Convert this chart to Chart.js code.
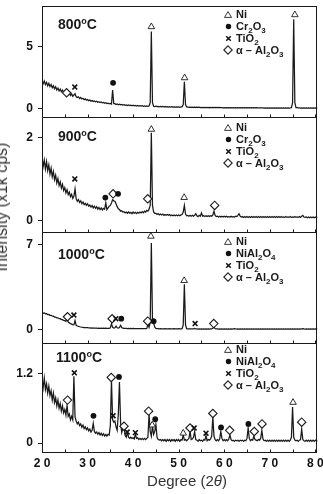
<!DOCTYPE html>
<html><head><meta charset="utf-8">
<script src="https://cdn.jsdelivr.net/npm/chart.js@4.4.1/dist/chart.umd.min.js"></script>
<style>
html,body{margin:0;padding:0;background:#fff;}
#wrap{position:relative;width:323px;height:494px;overflow:hidden;font-family:"Liberation Sans",Arial,sans-serif;color:#1a1a1a;}
#c{position:absolute;left:0;top:0;}
.ttl{position:absolute;white-space:nowrap;font-weight:bold;font-size:14px;line-height:16px;height:16px;transform:translateY(-50%);}
.ttl sup{font-size:9px;vertical-align:5px;line-height:0;}
.row{position:absolute;white-space:nowrap;font-weight:bold;font-size:11px;line-height:12px;height:12px;width:90px;transform:translateY(-50%);}
.sym{position:absolute;left:-6px;width:12px;top:0;height:12px;display:flex;align-items:center;justify-content:center;}
.txt{position:absolute;left:8px;top:0;}
sub{font-size:8px;vertical-align:-3px;line-height:0;}
#ytitle{position:absolute;left:2px;top:207px;transform:translate(-50%,-50%) rotate(-90deg);white-space:nowrap;font-size:16px;color:#333;}
#xtitle{position:absolute;left:187px;top:480px;transform:translate(-50%,-50%);white-space:nowrap;font-size:15px;color:#333;}
</style>
</head><body>
<div id="wrap">
<canvas id="c" width="323" height="494"></canvas>
<div id="ytitle">Intensity (x1k cps)</div>
<div id="xtitle">Degree (2<i>θ</i>)</div>
</div>
<script>
// ---- x grid (2θ, degrees) ----
const degrees = [
20,20.25,20.5,20.75, 21,21.25,21.5,21.75, 22,22.25,22.5,22.75, 23,23.25,23.5,23.75,
24,24.25,24.5,24.75, 25,25.25,25.5,25.75, 26,26.25,26.5,26.75, 27,27.25,27.5,27.75,
28,28.25,28.5,28.75, 29,29.25,29.5,29.75, 30,30.25,30.5,30.75, 31,31.25,31.5,31.75,
32,32.25,32.5,32.75, 33,33.25,33.5,33.75, 34,34.25,34.5,34.75, 35,35.25,35.5,35.75,
36,36.25,36.5,36.75, 37,37.25,37.5,37.75, 38,38.25,38.5,38.75, 39,39.25,39.5,39.75,
40,40.25,40.5,40.75, 41,41.25,41.5,41.75, 42,42.25,42.5,42.75, 43,43.25,43.5,43.75,
44,44.25,44.5,44.75, 45,45.25,45.5,45.75, 46,46.25,46.5,46.75, 47,47.25,47.5,47.75,
48,48.25,48.5,48.75, 49,49.25,49.5,49.75, 50,50.25,50.5,50.75, 51,51.25,51.5,51.75,
52,52.25,52.5,52.75, 53,53.25,53.5,53.75, 54,54.25,54.5,54.75, 55,55.25,55.5,55.75,
56,56.25,56.5,56.75, 57,57.25,57.5,57.75, 58,58.25,58.5,58.75, 59,59.25,59.5,59.75,
60,60.25,60.5,60.75, 61,61.25,61.5,61.75, 62,62.25,62.5,62.75, 63,63.25,63.5,63.75,
64,64.25,64.5,64.75, 65,65.25,65.5,65.75, 66,66.25,66.5,66.75, 67,67.25,67.5,67.75,
68,68.25,68.5,68.75, 69,69.25,69.5,69.75, 70,70.25,70.5,70.75, 71,71.25,71.5,71.75,
72,72.25,72.5,72.75, 73,73.25,73.5,73.75, 74,74.25,74.5,74.75, 75,75.25,75.5,75.75,
76,76.25,76.5,76.75, 77,77.25,77.5,77.75, 78,78.25,78.5,78.75, 79,79.25,79.5,79.75,
80,80.25,80.5,80.75
];

// ---- intensities (x1k cps), one value per degree step ----
const int800 = [
2.30,2.02,2.24,1.96, 2.14,1.86,2.05,1.80, 1.96,1.70,1.86,1.62, 1.78,1.52,1.68,1.46,
1.60,1.38,1.52,1.32, 1.44,1.22,1.36,1.16, 1.28,1.08,1.22,1.02, 1.12,1.22,0.98,0.92,
0.98,0.84,0.92,0.80, 0.86,0.75,0.81,0.71, 0.76,0.67,0.72,0.63, 0.68,0.60,0.64,0.57,
0.62,0.54,0.58,0.51, 0.56,0.49,0.53,0.46, 0.50,0.44,0.47,0.42, 0.45,0.40,1.52,0.42,
0.42,0.36,0.40,0.34, 0.38,0.33,0.36,0.31, 0.35,0.30,0.33,0.28, 0.32,0.28,0.30,0.26,
0.30,0.26,0.28,0.24, 0.28,0.24,0.27,0.23, 0.26,0.22,0.25,0.22, 0.24,0.21,0.24,0.50,
6.22,0.50,0.22,0.20, 0.22,0.19,0.21,0.18, 0.20,0.18,0.20,0.17, 0.19,0.17,0.19,0.16,
0.18,0.16,0.18,0.15, 0.17,0.15,0.17,0.15, 0.17,0.14,0.16,0.16, 0.35,2.18,0.35,0.16,
0.15,0.13,0.15,0.13, 0.15,0.12,0.14,0.12, 0.14,0.12,0.14,0.11, 0.13,0.11,0.13,0.11,
0.13,0.11,0.13,0.10, 0.12,0.10,0.12,0.10, 0.12,0.10,0.12,0.10, 0.12,0.10,0.11,0.09,
0.11,0.09,0.11,0.09, 0.11,0.09,0.11,0.09, 0.11,0.09,0.10,0.09, 0.10,0.08,0.10,0.08,
0.10,0.08,0.10,0.08, 0.10,0.08,0.10,0.08, 0.10,0.08,0.10,0.08, 0.10,0.08,0.09,0.08,
0.09,0.08,0.09,0.07, 0.09,0.07,0.09,0.07, 0.09,0.07,0.09,0.07, 0.09,0.07,0.09,0.07,
0.09,0.07,0.08,0.07, 0.08,0.07,0.08,0.07, 0.08,0.07,0.08,0.10, 0.50,7.20,0.50,0.10,
0.10,0.08,0.08,0.07, 0.08,0.07,0.08,0.07, 0.08,0.07,0.08,0.07, 0.08,0.07,0.08,0.07,
0.08,0.07,0.08,0.07
];
const int900 = [
1.52,1.30,1.46,1.24, 1.42,1.20,1.34,1.12, 1.26,1.05,1.18,0.98, 1.09,0.90,1.01,0.84,
0.93,0.78,0.87,0.72, 0.79,0.66,0.74,0.62, 0.68,0.57,0.63,0.53, 0.58,0.76,0.52,0.46,
0.50,0.43,0.47,0.40, 0.44,0.38,0.41,0.36, 0.40,0.34,0.37,0.32, 0.36,0.30,0.34,0.29,
0.33,0.27,0.31,0.26, 0.30,0.25,0.29,0.27, 0.42,0.26,0.30,0.34, 0.36,0.42,0.50,0.47,
0.46,0.40,0.33,0.28, 0.26,0.22,0.23,0.20, 0.21,0.18,0.20,0.17, 0.20,0.17,0.19,0.16,
0.20,0.17,0.19,0.16, 0.19,0.17,0.20,0.18, 0.21,0.18,0.22,0.20, 0.24,0.22,0.27,0.36,
2.12,0.36,0.20,0.17, 0.17,0.14,0.16,0.13, 0.15,0.13,0.15,0.12, 0.14,0.12,0.14,0.12,
0.14,0.11,0.13,0.11, 0.13,0.11,0.13,0.11, 0.13,0.11,0.13,0.14, 0.20,0.36,0.15,0.11,
0.12,0.10,0.12,0.10, 0.12,0.10,0.12,0.16, 0.11,0.09,0.12,0.10, 0.18,0.10,0.11,0.09,
0.11,0.09,0.11,0.09, 0.11,0.10,0.13,0.22, 0.12,0.09,0.10,0.08, 0.10,0.08,0.10,0.08,
0.10,0.08,0.10,0.08, 0.09,0.08,0.10,0.08, 0.09,0.08,0.10,0.09, 0.12,0.16,0.10,0.08,
0.09,0.07,0.09,0.07, 0.09,0.07,0.09,0.07, 0.09,0.07,0.09,0.07, 0.09,0.07,0.09,0.07,
0.09,0.07,0.09,0.07, 0.09,0.07,0.09,0.07, 0.09,0.07,0.09,0.07, 0.09,0.07,0.09,0.07,
0.09,0.07,0.09,0.07, 0.08,0.07,0.09,0.07, 0.08,0.07,0.09,0.07, 0.08,0.07,0.09,0.07,
0.08,0.07,0.09,0.07, 0.10,0.12,0.08,0.07, 0.08,0.06,0.08,0.06, 0.08,0.06,0.08,0.06,
0.08,0.06,0.08,0.06
];
const int1000 = [
1.42,1.35,1.37,1.30, 1.31,1.24,1.25,1.18, 1.18,1.11,1.11,1.04, 1.04,0.97,0.97,0.90,
0.90,0.83,0.82,0.76, 0.74,0.68,0.96,0.62, 0.56,0.50,0.46,0.42, 0.40,0.75,0.36,0.30,
0.28,0.24,0.22,0.20, 0.19,0.17,0.17,0.16, 0.16,0.14,0.15,0.13, 0.14,0.12,0.13,0.12,
0.13,0.11,0.12,0.11, 0.12,0.11,0.12,0.10, 0.12,0.10,0.11,0.10, 0.15,0.48,0.20,0.14,
0.16,0.30,0.16,0.14, 0.18,0.36,0.18,0.12, 0.11,0.10,0.10,0.09, 0.10,0.09,0.10,0.09,
0.10,0.08,0.09,0.08, 0.09,0.08,0.09,0.08, 0.09,0.08,0.09,0.08, 0.10,0.45,0.20,0.60,
7.10,0.80,0.55,0.20, 0.10,0.08,0.08,0.07, 0.08,0.06,0.07,0.06, 0.08,0.06,0.07,0.06,
0.08,0.06,0.07,0.06, 0.08,0.06,0.07,0.06, 0.08,0.06,0.07,0.08, 0.40,3.72,0.40,0.08,
0.07,0.06,0.07,0.06, 0.07,0.06,0.10,0.06, 0.07,0.05,0.07,0.05, 0.07,0.05,0.07,0.05,
0.07,0.05,0.07,0.05, 0.07,0.06,0.12,0.25, 0.08,0.06,0.07,0.05, 0.06,0.05,0.06,0.05,
0.06,0.05,0.06,0.05, 0.06,0.05,0.06,0.05, 0.07,0.09,0.06,0.05, 0.06,0.05,0.06,0.05,
0.06,0.05,0.06,0.05, 0.06,0.05,0.06,0.05, 0.06,0.05,0.06,0.05, 0.06,0.05,0.06,0.05,
0.06,0.05,0.06,0.05, 0.06,0.05,0.06,0.05, 0.06,0.05,0.06,0.05, 0.06,0.05,0.06,0.05,
0.06,0.05,0.06,0.05, 0.06,0.05,0.06,0.05, 0.06,0.05,0.06,0.05, 0.06,0.05,0.06,0.05,
0.06,0.05,0.06,0.05, 0.07,0.09,0.06,0.05, 0.06,0.05,0.06,0.05, 0.06,0.05,0.06,0.05,
0.06,0.05,0.06,0.05
];
const int1100 = [
1.10,0.95,1.12,0.92, 1.02,0.86,0.98,0.82, 0.90,0.74,0.86,0.70, 0.78,0.64,0.74,0.60,
0.68,0.55,0.64,0.52, 0.58,0.48,0.65,0.46, 0.50,0.40,0.46,0.40, 1.15,0.45,0.38,0.33,
0.36,0.30,0.33,0.27, 0.31,0.25,0.28,0.23, 0.26,0.21,0.24,0.19, 0.22,0.34,0.20,0.17,
0.19,0.15,0.18,0.14, 0.17,0.13,0.16,0.12, 0.15,0.12,0.15,0.14, 0.30,1.08,0.40,0.36,
0.38,0.28,0.22,0.50, 1.05,0.35,0.18,0.25, 0.28,0.13,0.10,0.18, 0.10,0.08,0.10,0.08,
0.09,0.07,0.15,0.08, 0.09,0.06,0.08,0.06, 0.08,0.06,0.08,0.06, 0.08,0.10,0.50,0.20,
0.12,0.30,0.15,0.20, 0.32,0.10,0.06,0.05, 0.06,0.04,0.06,0.04, 0.06,0.03,0.06,0.04,
0.06,0.03,0.06,0.04, 0.06,0.03,0.06,0.04, 0.06,0.03,0.06,0.05, 0.14,0.05,0.06,0.04,
0.06,0.08,0.20,0.06, 0.07,0.10,0.20,0.06, 0.05,0.03,0.06,0.04, 0.05,0.03,0.06,0.05,
0.13,0.04,0.06,0.05, 0.07,0.12,0.45,0.12, 0.06,0.04,0.06,0.04, 0.07,0.20,0.08,0.04,
0.06,0.04,0.06,0.04, 0.07,0.14,0.06,0.04, 0.05,0.03,0.05,0.04, 0.05,0.03,0.05,0.04,
0.05,0.03,0.05,0.04, 0.08,0.26,0.08,0.04, 0.06,0.05,0.12,0.06, 0.05,0.04,0.06,0.05,
0.08,0.22,0.07,0.04, 0.05,0.03,0.05,0.03, 0.05,0.03,0.05,0.03, 0.05,0.03,0.05,0.03,
0.05,0.03,0.05,0.03, 0.05,0.03,0.05,0.03, 0.05,0.03,0.05,0.10, 0.62,0.10,0.05,0.04,
0.05,0.03,0.05,0.06, 0.24,0.06,0.04,0.03, 0.05,0.03,0.05,0.03, 0.05,0.03,0.05,0.03,
0.05,0.03,0.05,0.03
];

// ---- phase markers [2θ, intensity] ----
const ni800 = [[44.0,6.6],[51.3,2.5],[75.5,7.56]];
const ox800 = [[35.6,2.1]];
const ti800 = [[27.2,1.76]];
const al800 = [[25.4,1.3]];

const ni900 = [[44.0,2.2],[51.2,0.55]];
const ox900 = [[33.9,0.55],[36.7,0.64]];
const ti900 = [[27.2,1.0]];
const al900 = [[35.6,0.64],[43.2,0.52],[57.9,0.36]];

const ni1000 = [[43.9,7.65],[51.2,4.02]];
const ox1000 = [[37.4,0.9],[44.5,0.7]];
const ti1000 = [[27.0,1.2],[36.2,0.9],[53.6,0.5]];
const al1000 = [[25.6,1.06],[35.4,0.9],[43.2,0.7],[57.7,0.5]];

const ni1100 = [[44.2,0.31],[51.0,0.17],[75.1,0.7]];
const ox1100 = [[31.3,0.47],[36.9,1.14],[44.85,0.41],[59.3,0.27],[65.3,0.33]];
const ti1100 = [[27.1,1.21],[35.6,0.47],[38.7,0.19],[40.5,0.18],[53.4,0.26],[56.0,0.17]];
const al1100 = [[25.6,0.74],[35.2,1.13],[38.0,0.29],[43.4,0.55],[52.5,0.26],[57.5,0.51],[61.2,0.22],[66.6,0.2],[68.3,0.33],[77.0,0.36]];

// ---- ticks / labels ----
const xTicks = [20,30,40,50,60,70,80];
const xMinorTicks = [20,25,30,35,40,45,50,55,60,65,70,75,80];
const yTicks800 = [0,5];
const yTicks900 = [0,2];
const yTicks1000 = [0,7];
const yTicks1100 = [0,1.2];
const panelTitles = ['800', '900', '1000', '1100'];
const legend800 = ['Ni', 'Cr<sub>2</sub>O<sub>3</sub>', 'TiO<sub>2</sub>', 'α – Al<sub>2</sub>O<sub>3</sub>'];
const legend1000 = ['Ni', 'NiAl<sub>2</sub>O<sub>4</sub>', 'TiO<sub>2</sub>', 'α – Al<sub>2</sub>O<sub>3</sub>'];

// ---- build chart ----
const INK = '#1a1a1a';
const FONT = '"Liberation Sans", Arial, sans-serif';
const panels = [
  {id:'p800',  vals:int800,  ni:ni800,  ox:ox800,  ti:ti800,  al:al800,  ticks:yTicks800,  min:-0.64, max:8.3,  w:112},
  {id:'p900',  vals:int900,  ni:ni900,  ox:ox900,  ti:ti900,  al:al900,  ticks:yTicks900,  min:-0.29, max:2.5,  w:116},
  {id:'p1000', vals:int1000, ni:ni1000, ox:ox1000, ti:ti1000, al:al1000, ticks:yTicks1000, min:-1.06, max:7.98, w:111},
  {id:'p1100', vals:int1100, ni:ni1100, ox:ox1100, ti:ti1100, al:al1100, ticks:yTicks1100, min:-0.154, max:1.73, w:110}
];
const toXY = arr => arr.map(p => ({x:p[0], y:p[1]}));
const datasets = [];
panels.forEach(p => {
  datasets.push({type:'line', yAxisID:p.id, order:1, data:degrees.map((d,i)=>({x:d,y:p.vals[i]})),
    borderColor:INK, borderWidth:1.25, pointRadius:0, tension:0, fill:false});
  datasets.push({type:'scatter', yAxisID:p.id, order:0, data:toXY(p.ni), pointStyle:'triangle', pointRadius:3.8,
    borderColor:INK, backgroundColor:'#fff', borderWidth:0.9});
  datasets.push({type:'scatter', yAxisID:p.id, order:0, data:toXY(p.ox), pointStyle:'circle', pointRadius:2.9,
    borderColor:'#111', backgroundColor:'#111', borderWidth:0});
  datasets.push({type:'scatter', yAxisID:p.id, order:0, data:toXY(p.ti), pointStyle:'crossRot', pointRadius:3.4,
    borderColor:'#111', backgroundColor:'#111', borderWidth:1.6});
  datasets.push({type:'scatter', yAxisID:p.id, order:0, data:toXY(p.al), pointStyle:'rectRot', pointRadius:4.2,
    borderColor:INK, backgroundColor:'#fff', borderWidth:1.1});
});

const scales = {
  x: {type:'linear', position:'bottom', min:20, max:80.45,
    afterBuildTicks: s => { s.ticks = xTicks.map(v => ({value:v})); },
    afterFit: s => { s.height = 42; s.paddingLeft = 0; s.paddingRight = 0; },
    grid:{display:false, drawTicks:false}, border:{display:false},
    ticks:{font:{family:FONT, size:12, weight:'bold'}, color:'#111', padding:4, maxRotation:0, autoSkip:false,
      callback: v => String(v).split('').join(' ')}
  }
};
// stacked left axes: last defined is placed on top
[...panels].reverse().forEach(p => {
  scales[p.id] = {type:'linear', position:'left', stack:'panels', stackWeight:p.w, min:p.min, max:p.max,
    afterBuildTicks: s => { s.ticks = p.ticks.map(v => ({value:v})); },
    afterFit: s => { s.width = 42; s.paddingTop = 0; s.paddingBottom = 0; },
    grid:{display:true, drawOnChartArea:false, drawTicks:true, tickLength:4, color:INK, lineWidth:1},
    border:{display:false},
    ticks:{font:{family:FONT, size:12, weight:'bold'}, color:'#111', padding:5}
  };
});

const framePlugin = {
  id:'frame',
  afterDraw(chart){
    const ctx = chart.ctx, a = chart.chartArea, xs = chart.scales.x;
    ctx.save();
    ctx.strokeStyle = INK; ctx.lineWidth = 1;
    panels.forEach(p => {
      const s = chart.scales[p.id];
      const t = Math.round(s.top), b = Math.round(s.bottom);
      ctx.strokeRect(Math.round(a.left)+0.5, t+0.5, Math.round(a.right)-Math.round(a.left)-1, b-t);
      xMinorTicks.forEach(v => {
        const px = Math.round(xs.getPixelForValue(v)) + 0.5;
        ctx.beginPath(); ctx.moveTo(px, b+0.5); ctx.lineTo(px, b-2.5); ctx.stroke();
      });
    });
    ctx.restore();
  }
};

const chart = new Chart(document.getElementById('c'), {
  type:'line',
  data:{datasets},
  options:{responsive:false, animation:false, devicePixelRatio:1,
    layout:{padding:{top:3, right:2, left:0, bottom:0}},
    plugins:{legend:{display:false}, tooltip:{enabled:false}},
    scales
  },
  plugins:[framePlugin]
});

// ---- HTML overlays: panel titles and legends positioned from the y scales ----
const wrap = document.getElementById('wrap');
const legendSyms = [
  '<svg width="8" height="7"><polygon points="4,0.6 7.5,6.4 0.5,6.4" fill="none" stroke="#222" stroke-width="0.9"/></svg>',
  '<svg width="7" height="7"><circle cx="3.5" cy="3.5" r="2.7" fill="#111"/></svg>',
  '<svg width="7" height="7"><path d="M1.2,1.2L5.8,5.8M5.8,1.2L1.2,5.8" stroke="#111" stroke-width="1.5"/></svg>',
  '<svg width="10" height="10"><polygon points="5,0.8 9.2,5 5,9.2 0.8,5" fill="none" stroke="#222" stroke-width="1.1"/></svg>'
];
const titleOffsets = [18, 19, 22, 14];   // title centre below panel top
const titleLeft = [58, 58, 58, 56];
const legendOffsets = [8, 10, 9, 6];    // first legend row centre below panel top
panels.forEach((p, k) => {
  const s = chart.scales[p.id];
  const top = Math.round(s.top);
  const t = document.createElement('div');
  t.className = 'ttl';
  t.style.left = titleLeft[k] + 'px';
  t.style.top = (top + titleOffsets[k]) + 'px';
  t.innerHTML = panelTitles[k] + '<sup>o</sup>C';
  wrap.appendChild(t);
  const names = k < 2 ? legend800 : legend1000;
  names.forEach((n, r) => {
    const d = document.createElement('div');
    d.className = 'row';
    d.style.left = '228px';
    d.style.top = (top + legendOffsets[k] + r * 12) + 'px';
    d.innerHTML = '<span class="sym">' + legendSyms[r] + '</span><span class="txt">' + n + '</span>';
    wrap.appendChild(d);
  });
});
</script>
</body></html>
